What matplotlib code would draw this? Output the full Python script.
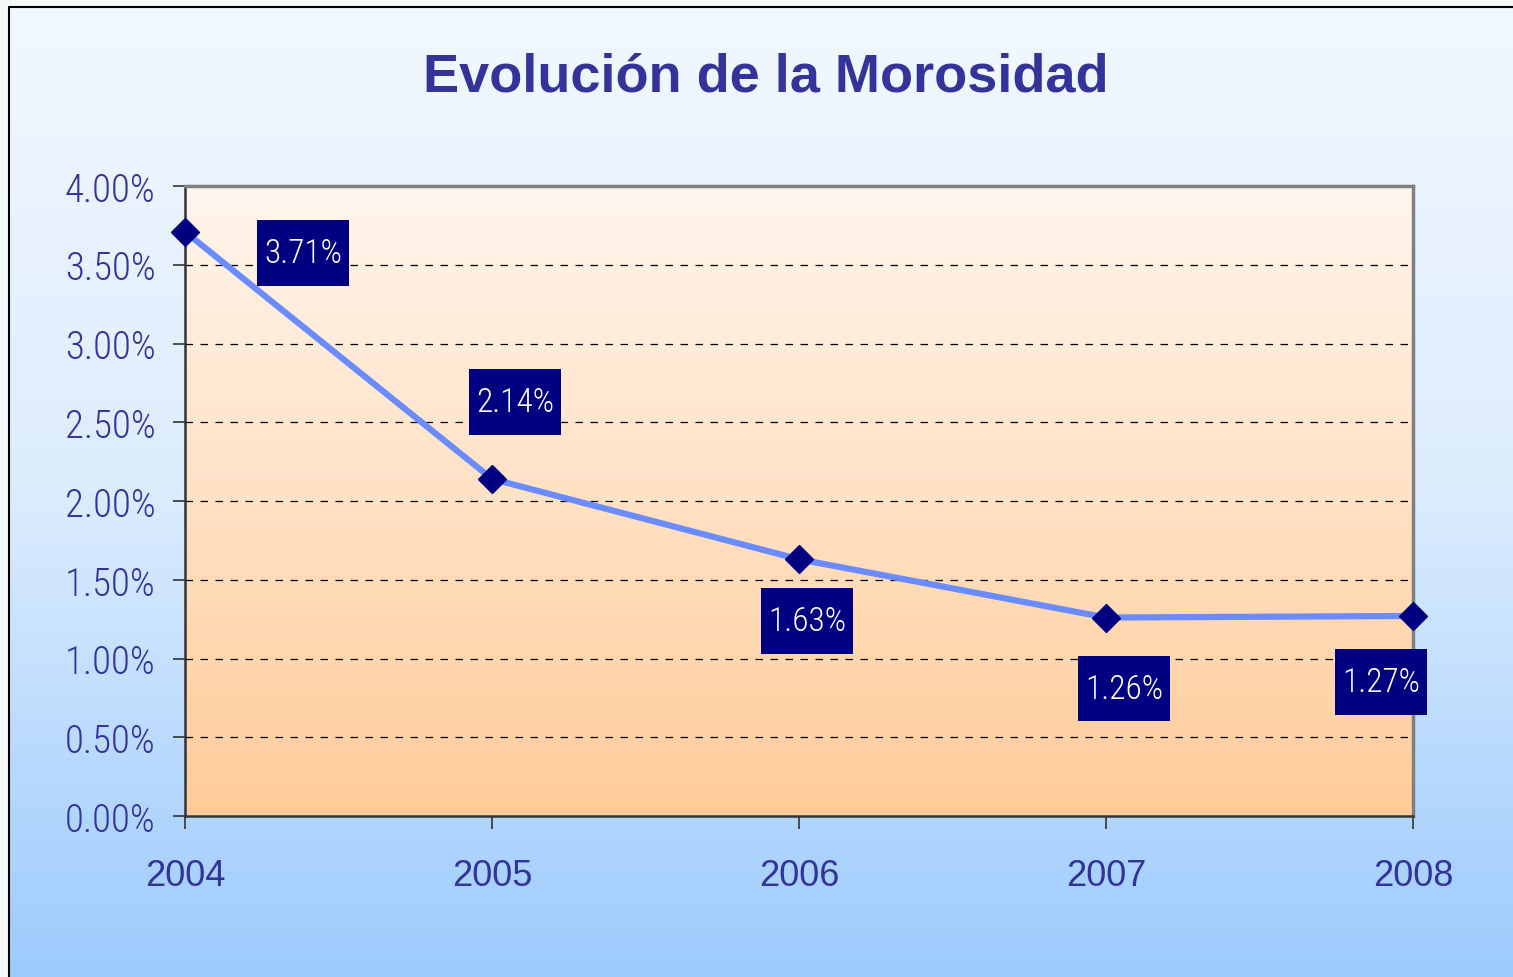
import matplotlib
matplotlib.use('Agg')
import matplotlib.pyplot as plt
import numpy as np
from matplotlib.colors import LinearSegmentedColormap
from matplotlib.ticker import FuncFormatter
from matplotlib import font_manager

# data
years = [2004, 2005, 2006, 2007, 2008]
morosidad = [3.71, 2.14, 1.63, 1.26, 1.27]
labels = ['3.71%', '2.14%', '1.63%', '1.26%', '1.27%']
# where each label box sits relative to its point (pixels)
label_offsets = [(118, -21), (23, 77), (8, -62), (18, -71), (-32, -66)]
yticks = np.arange(0, 4.01, 0.5)

# condensed face if there is one (Excel used Arial Narrow)
names = {f.name for f in font_manager.fontManager.ttflist}
narrow = dict(family='DejaVu Sans', stretch='condensed')
for cand in ['Liberation Sans Narrow', 'Roboto Condensed', 'Open Sans Condensed']:
    if cand in names:
        narrow = dict(family=cand, stretch='normal')
        break

title_col = '#333399'

fig = plt.figure(figsize=(15.13, 9.78), dpi=100)
fig.patch.set_facecolor('#f3f8f8')

# outer chart area with blue gradient and black border
bg = fig.add_axes([0, 0, 1, 1], zorder=-5)
bg.set_xlim(0, 1513)
bg.set_ylim(978, 0)
bg.axis('off')
grad_bg = LinearSegmentedColormap.from_list('bg', ['#f2f8ff', '#dcecfd', '#9ccbfd'])
bg.imshow(np.linspace(0, 1, 256).reshape(-1, 1), cmap=grad_bg, aspect='auto',
          extent=(9, 1513, 978, 8), zorder=0)
bg.plot([8.5, 8.5, 1513], [978, 7.5, 7.5], color='black', lw=1.5, zorder=1)

ax = fig.add_axes([185 / 1513, 1 - 817 / 978, (1413 - 185) / 1513, (817 - 187) / 978])
ax.set_facecolor('none')
grad_pl = LinearSegmentedColormap.from_list('pl', ['#fff6ee', '#ffcc99'])
ax.imshow(np.linspace(0, 1, 256).reshape(-1, 1), cmap=grad_pl, aspect='auto',
          extent=(0, 1, 0, 1), transform=ax.transAxes, zorder=0)

ax.set_xlim(years[0], years[-1])
ax.set_ylim(0, 4)
ax.set_xticks(years)
ax.set_yticks(yticks)
ax.yaxis.set_major_formatter(FuncFormatter(lambda v, p: '%.2f%%' % v))

for v in yticks[1:-1]:
    ax.axhline(v, color='black', lw=0.9, dashes=(6, 6), zorder=1)

ax.plot(years, morosidad, color='#6b8cff', lw=4.5, zorder=3, solid_capstyle='butt')
ax.plot(years, morosidad, linestyle='none', marker='D', markersize=14,
        color='#000080', zorder=4, clip_on=False)

for x, y, lab, off in zip(years, morosidad, labels, label_offsets):
    ax.annotate(lab, (x, y), xytext=off, textcoords='offset pixels',
                ha='center', va='center', color='white', fontsize=24,
                fontfamily=narrow['family'], fontstretch=narrow['stretch'],
                fontweight='light', zorder=5, annotation_clip=False,
                bbox=dict(boxstyle='square,pad=0.22', mutation_aspect=2.3,
                          fc='#000080', ec='none'))

for s in ['top', 'right']:
    ax.spines[s].set_color('#808080')
    ax.spines[s].set_linewidth(2.5)
for s in ['left', 'bottom']:
    ax.spines[s].set_color('#333333')
    ax.spines[s].set_linewidth(1.8)

ax.tick_params(axis='y', direction='out', length=9, width=1.2, color='#333333',
               pad=12, labelsize=28, labelcolor=title_col)
ax.tick_params(axis='x', direction='out', length=9, width=1.2, color='#333333',
               pad=21, labelsize=26, labelcolor=title_col)
for t in ax.get_yticklabels():
    t.set_fontfamily(narrow['family'])
    t.set_fontstretch(narrow['stretch'])
    t.set_fontweight('light')
for t in ax.get_xticklabels():
    t.set_fontfamily('Liberation Sans')

fig.text(0.506, 1 - 77 / 978, 'Evolución de la Morosidad', ha='center', va='center',
         fontsize=39, fontweight='bold', color=title_col, family='Liberation Sans')

plt.savefig('out.png', dpi=100)
